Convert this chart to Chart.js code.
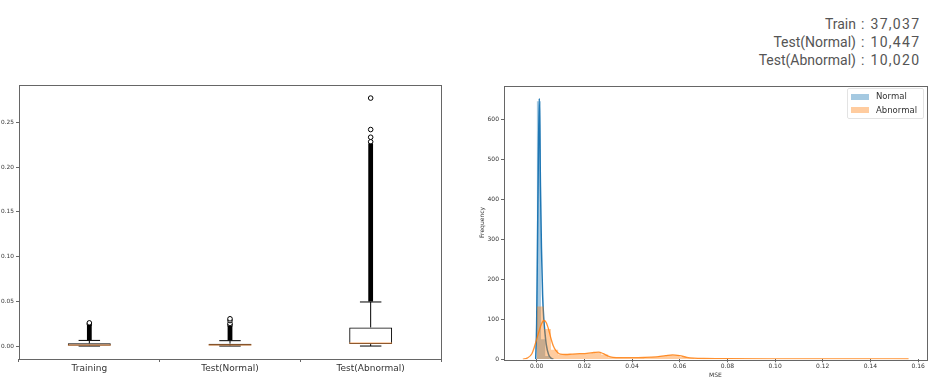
<!DOCTYPE html>
<html>
<head>
<meta charset="utf-8">
<script src="https://cdn.jsdelivr.net/npm/chart.js@4/dist/chart.umd.min.js"></script>
<style>
  body { margin: 0; background: #fff; width: 943px; height: 387px; position: relative; overflow: hidden; }
  #boxWrap { position: absolute; left: 0; top: 80px; width: 460px; height: 307px; }
  #histWrap { position: absolute; left: 460px; top: 80px; width: 483px; height: 307px; }
  .counts { position: absolute; left: 0; top: 15px; width: 943px; font-family: Roboto, sans-serif; font-size: 14px; color: #555; line-height: 18px; }
  .counts .lab { position: absolute; right: 87px; text-align: right; white-space: nowrap; }
  .counts .val { position: absolute; left: 861px; white-space: nowrap; letter-spacing: 1.3px; }
  .legend { position: absolute; left: 847px; top: 88px; width: 75px; height: 29px; border: 1px solid #e3e3e3; border-radius: 2px; background: rgba(255,255,255,0.8);
            font-family: "DejaVu Sans", sans-serif; font-size: 8.5px; color: #333; }
  .legend .row { position: absolute; left: 3px; height: 10px; line-height: 10px; }
  .legend .sw { display: inline-block; width: 18px; height: 6px; vertical-align: middle; margin-right: 7px; }
</style>
</head>
<body>
<div class="counts" id="counts"></div>
<div id="boxWrap"><canvas id="boxChart"></canvas></div>
<div id="histWrap"><canvas id="histChart"></canvas></div>
<div class="legend" id="legend"></div>
<script>
// ---- left: box plot ----
const groups = ["Training", "Test(Normal)", "Test(Abnormal)"];
const q1 = [0.0004, 0.0005, 0.0022];
const medians = [0.0011, 0.0012, 0.0033];
const q3 = [0.003, 0.0027, 0.0208];
const whiskerLow = [0, 0, 0];
const whiskerHigh = [0.0063, 0.006, 0.0493];
// outliers so dense they merge into one black column
const outlierBands = [[0.0066, 0.0238], [0.0063, 0.0225], [0.0497, 0.2265]];
const outliers = [
  [0.0245, 0.0259],
  [0.0235, 0.0252, 0.0285, 0.0305],
  [0.2285, 0.2336, 0.2422, 0.2774]
];
const boxTicks = [0, 0.05, 0.1, 0.15, 0.2, 0.25];

// ---- right: distribution ----
const abnBinStart = 0, abnBinWidth = 0.003;
const abnHist = [132, 76, 24, 12, 12, 13, 14, 15, 17, 12, 5, 4, 3.5, 3.5, 4, 5, 6, 8, 11, 10, 6, 3, 2, 1.5,
  1.3, 1.2, 1.2, 1.1, 1.1, 1, 1, 1, 1, 1, 1, 1, 0.9, 0.9, 0.9, 0.9, 0.9, 0.8, 0.8, 0.8, 0.8, 0.8, 0.8, 0.8, 0.8, 0.8, 0.8, 0.8];
const normBinStart = 0, normBinWidth = 0.0018;
const normHist = [645, 50, 8, 2, 1, 0.5];
const normKdeX = [-0.0004, 0, 0.0005, 0.0011, 0.0016, 0.002, 0.0025, 0.003, 0.0035, 0.004, 0.005, 0.006, 0.007];
const normKdeY = [0, 90, 380, 652, 430, 280, 160, 100, 65, 38, 12, 3, 0.5];
const abnKdeX = [-0.0058, -0.004, -0.002, -0.001, 0, 0.001, 0.002, 0.003, 0.004, 0.005, 0.006, 0.007, 0.008, 0.009, 0.01,
  0.012, 0.015, 0.018, 0.021, 0.024, 0.026, 0.028, 0.03, 0.032, 0.035, 0.04, 0.045, 0.05, 0.054, 0.057, 0.06, 0.063,
  0.066, 0.07, 0.08, 0.1, 0.12, 0.14, 0.156];
const abnKdeY = [0, 3, 14, 30, 50, 70, 88, 97, 92, 75, 52, 33, 22, 16, 13,
  12, 13, 14, 15, 17, 18, 14, 8, 5, 4, 4, 4.5, 6, 9, 11, 9, 5,
  3, 2, 1.5, 1.2, 1, 1, 0.8];
const histXTicks = [0, 0.02, 0.04, 0.06, 0.08, 0.1, 0.12, 0.14, 0.16];
const histYTicks = [0, 100, 200, 300, 400, 500, 600];

const countLabels = ["Train", "Test(Normal)", "Test(Abnormal)"];
const countValues = ["37,037", "10,447", "10,020"];

const blue = "#1f77b4", orange = "#ff7f0e";
const blueFill = "rgba(31,119,180,0.4)", orangeFill = "rgba(255,127,14,0.4)";
const axisColor = "#666", tickColor = "#333";

// header counts
const counts = document.getElementById("counts");
countLabels.forEach((l, i) => {
  counts.innerHTML += `<div class="lab" style="top:${i * 18}px">${l}</div>` +
    `<div class="val" style="top:${i * 18}px">: ${countValues[i]}</div>`;
});

// legend
const legend = document.getElementById("legend");
[["Normal", blueFill], ["Abnormal", orangeFill]].forEach(([name, col], i) => {
  legend.innerHTML += `<div class="row" style="top:${2 + i * 13.5}px"><span class="sw" style="background:${col}"></span>${name}</div>`;
});

const frame = {
  id: "frame",
  afterDraw(chart) {
    const { ctx, chartArea: a } = chart;
    ctx.save();
    ctx.strokeStyle = axisColor;
    ctx.lineWidth = 1;
    ctx.strokeRect(Math.round(a.left) + 0.5, Math.round(a.top) + 0.5, Math.round(a.right - a.left), Math.round(a.bottom - a.top));
    ctx.restore();
  }
};

const boxParts = {
  id: "boxParts",
  afterDatasetsDraw(chart) {
    const { ctx } = chart;
    const y = chart.scales.y;
    const meta = chart.getDatasetMeta(0);
    ctx.save();
    ctx.lineWidth = 1;
    meta.data.forEach((bar, i) => {
      const x = bar.x, hw = bar.width / 2, cw = bar.width / 4;
      ctx.strokeStyle = "#000";
      ctx.beginPath();
      ctx.moveTo(x, y.getPixelForValue(q3[i]));
      ctx.lineTo(x, y.getPixelForValue(whiskerHigh[i]));
      ctx.moveTo(x, y.getPixelForValue(q1[i]));
      ctx.lineTo(x, y.getPixelForValue(whiskerLow[i]));
      ctx.moveTo(x - cw, y.getPixelForValue(whiskerHigh[i]));
      ctx.lineTo(x + cw, y.getPixelForValue(whiskerHigh[i]));
      ctx.moveTo(x - cw, y.getPixelForValue(whiskerLow[i]));
      ctx.lineTo(x + cw, y.getPixelForValue(whiskerLow[i]));
      ctx.stroke();
      ctx.strokeStyle = "#f59a50";
      ctx.beginPath();
      ctx.moveTo(x - hw, y.getPixelForValue(medians[i]));
      ctx.lineTo(x + hw, y.getPixelForValue(medians[i]));
      ctx.stroke();
    });
    ctx.restore();
  }
};

const fixedTicks = (vals) => (scale) => { scale.ticks = vals.map(v => ({ value: v })); };

new Chart(document.getElementById("boxChart"), {
  type: "bar",
  data: {
    labels: groups,
    datasets: [
      {
        label: "box",
        data: groups.map((g, i) => [q1[i], q3[i]]),
        backgroundColor: "rgba(255,255,255,0)",
        borderColor: "#000",
        borderWidth: 1,
        borderSkipped: false,
        grouped: false,
        categoryPercentage: 1,
        barPercentage: 0.305
      },
      {
        label: "dense outliers",
        data: outlierBands,
        backgroundColor: "#000",
        borderWidth: 0,
        grouped: false,
        categoryPercentage: 1,
        barPercentage: 0.034
      },
      {
        type: "scatter",
        label: "outliers",
        data: outliers.flatMap((vals, i) => vals.map(v => ({ x: groups[i], y: v }))),
        pointRadius: 2.3,
        pointBorderWidth: 1,
        pointBorderColor: "#000",
        pointBackgroundColor: "#fff"
      }
    ]
  },
  options: {
    responsive: true,
    maintainAspectRatio: false,
    animation: false,
    layout: { padding: { top: 4, right: 19, left: 0, bottom: 0 } },
    plugins: { legend: { display: false }, tooltip: { enabled: false } },
    scales: {
      x: {
        type: "category",
        afterFit: (s) => { s.height = 28; },
        grid: { drawOnChartArea: false, drawTicks: true, tickLength: 3, color: axisColor },
        border: { display: false },
        ticks: { color: tickColor, padding: 1, font: { family: "DejaVu Sans", size: 9 } }
      },
      y: {
        min: -0.0145,
        max: 0.2915,
        afterFit: (s) => { s.width = 19; },
        afterBuildTicks: fixedTicks(boxTicks),
        grid: { drawOnChartArea: false, drawTicks: true, tickLength: 3, color: axisColor },
        border: { display: false },
        ticks: { color: tickColor, padding: 2, font: { family: "DejaVu Sans", size: 5.8 }, callback: v => v.toFixed(2) }
      }
    }
  },
  plugins: [frame, boxParts]
});

const stepPoints = (start, width, heights) => {
  const pts = heights.map((h, i) => ({ x: start + i * width, y: h }));
  pts.push({ x: start + heights.length * width, y: 0 });
  return pts;
};

new Chart(document.getElementById("histChart"), {
  type: "line",
  data: {
    datasets: [
      {
        label: "Normal",
        data: stepPoints(normBinStart, normBinWidth, normHist),
        stepped: true,
        fill: "origin",
        backgroundColor: blueFill,
        borderWidth: 0,
        pointRadius: 0,
        order: 4
      },
      {
        label: "Normal kde",
        data: normKdeX.map((x, i) => ({ x, y: normKdeY[i] })),
        borderColor: blue,
        borderWidth: 1.5,
        cubicInterpolationMode: "monotone",
        pointRadius: 0,
        fill: false,
        order: 3
      },
      {
        label: "Abnormal",
        data: stepPoints(abnBinStart, abnBinWidth, abnHist),
        stepped: true,
        fill: "origin",
        backgroundColor: orangeFill,
        borderWidth: 0,
        pointRadius: 0,
        order: 2
      },
      {
        label: "Abnormal kde",
        data: abnKdeX.map((x, i) => ({ x, y: abnKdeY[i] })),
        borderColor: "rgba(255,127,14,0.85)",
        borderWidth: 1.3,
        cubicInterpolationMode: "monotone",
        pointRadius: 0,
        fill: false,
        order: 1
      }
    ]
  },
  options: {
    responsive: true,
    maintainAspectRatio: false,
    animation: false,
    layout: { padding: { top: 4, right: 16.3, left: 16, bottom: 7 } },
    plugins: { legend: { display: false }, tooltip: { enabled: false } },
    scales: {
      x: {
        type: "linear",
        min: -0.0137,
        max: 0.1636,
        afterFit: (s) => { s.height = 20.7; },
        afterBuildTicks: fixedTicks(histXTicks),
        grid: { drawOnChartArea: false, drawTicks: true, tickLength: 3, color: axisColor },
        border: { display: false },
        title: { display: true, text: "MSE", color: tickColor, padding: { top: 0, bottom: 1 }, font: { family: "DejaVu Sans", size: 6 } },
        ticks: { color: tickColor, padding: 1, maxRotation: 0, font: { family: "DejaVu Sans", size: 6 }, callback: v => v.toFixed(2) }
      },
      y: {
        min: 0,
        max: 684,
        afterFit: (s) => { s.width = 28; },
        afterBuildTicks: fixedTicks(histYTicks),
        grid: { drawOnChartArea: false, drawTicks: true, tickLength: 3, color: axisColor },
        border: { display: false },
        title: { display: true, text: "Frequency", color: tickColor, padding: { top: 3, bottom: 0 }, font: { family: "DejaVu Sans", size: 6 } },
        ticks: { color: tickColor, padding: 2, font: { family: "DejaVu Sans", size: 6 } }
      }
    }
  },
  plugins: [frame]
});
</script>
</body>
</html>
